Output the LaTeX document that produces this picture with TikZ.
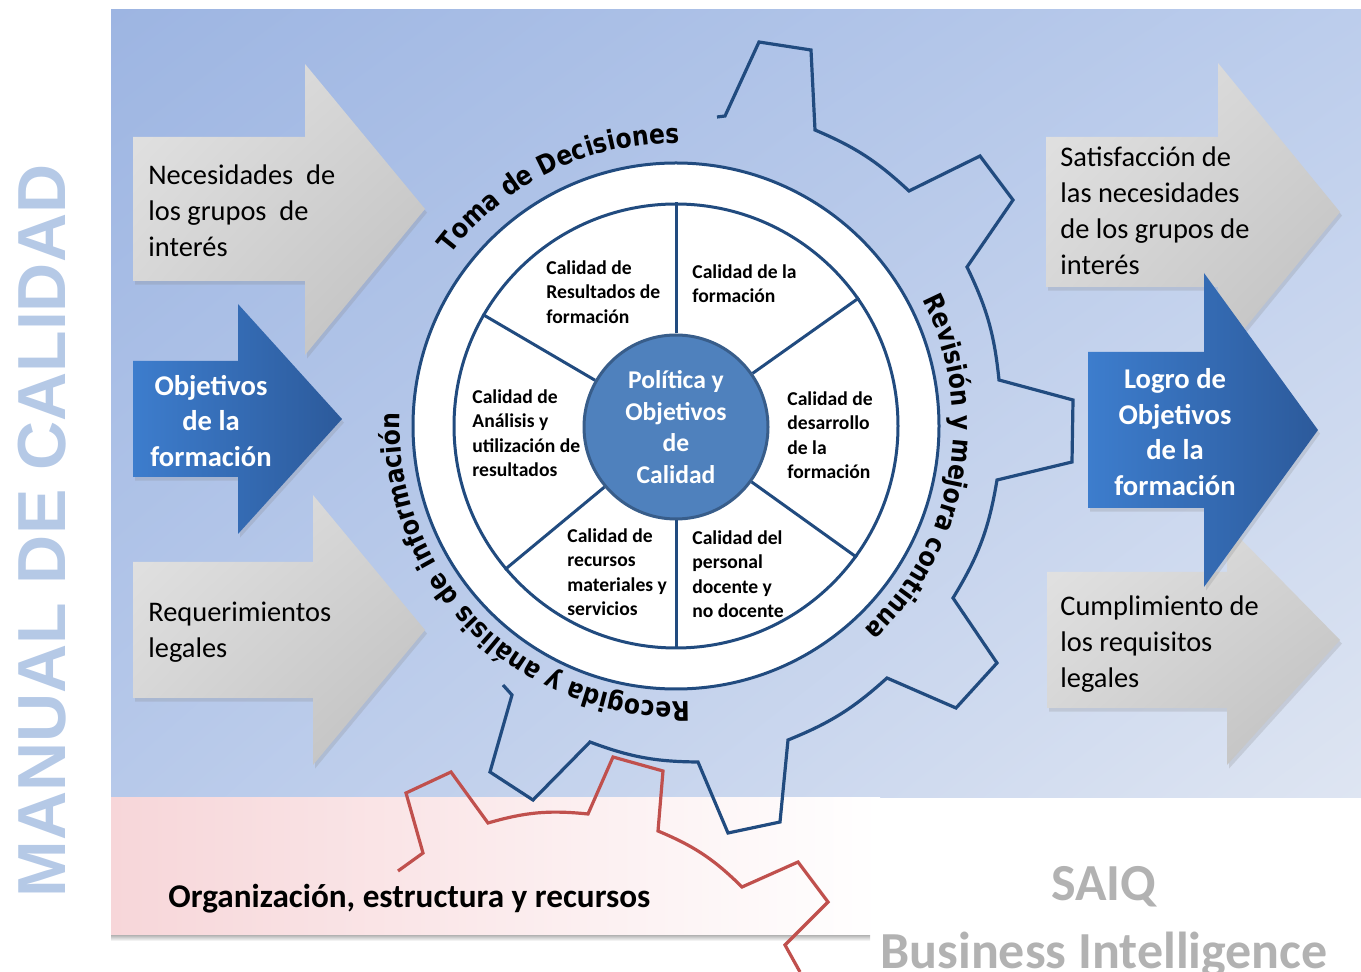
\documentclass[tikz,border=0pt]{standalone}
\usepackage{fontspec}
\setmainfont{Carlito}
\newfontfamily\arcofont[FakeStretch=0.87]{DejaVu Sans}
\newfontfamily\titulofont{Liberation Sans}
\usepackage{tikz}
\usetikzlibrary{decorations.text,shadows,shadings}
\definecolor{fondoA}{RGB}{157,181,226}
\definecolor{fondoB}{RGB}{188,205,236}
\definecolor{fondoC}{RGB}{183,201,234}
\definecolor{fondoD}{RGB}{222,229,242}
\definecolor{rosaA}{RGB}{247,214,217}
\definecolor{rosaB}{RGB}{233,219,221}
\definecolor{azulLinea}{RGB}{33,75,127}
\definecolor{azulDisco}{RGB}{79,129,189}
\definecolor{azulBorde}{RGB}{56,93,138}
\definecolor{rojoEng}{RGB}{192,80,77}
\definecolor{flechaA}{RGB}{61,125,205}
\definecolor{flechaB}{RGB}{44,90,155}
\definecolor{grisA}{RGB}{228,228,228}
\definecolor{grisB}{RGB}{211,211,211}
\definecolor{grisC}{RGB}{190,190,190}
\definecolor{titulo}{RGB}{181,201,230}
\definecolor{marca}{RGB}{178,178,178}
\newcommand{\flecha}[8]{
	%cuerpo
	\shade[#8] (#1,-#2) -- (#4,-#2) -- (#4,-#5)
	%punta
	-- (#6,{-(#2+#3)/2}) -- (#4,-#7)
	%
	-- (#4,-#3) -- (#1,-#3) -- cycle;
}
\newcommand{\arco}[4]{
	\path[decorate, decoration={text along path, text align=center,
		text={|\arcofont\bfseries\fontsize{13.5}{16}\selectfont|#4}}]
	(676,-426) ++(#1:#3) arc[start angle=#1, end angle=#2, radius=#3];
}
\tikzset{
	linea/.style={draw=azulLinea, line width=1.5pt},
	engranaje/.style={draw=azulLinea, line width=1.6pt},
	engrojo/.style={draw=rojoEng, line width=1.6pt},
	gris/.style={upper left=grisA, upper right=grisB, lower left=grisB, lower right=grisC,
		drop shadow={opacity=0.22, shadow xshift=1pt, shadow yshift=-1.8pt}},
	azul/.style={left color=flechaA, right color=flechaB,
		drop shadow={opacity=0.22, shadow xshift=1pt, shadow yshift=-1.8pt}},
	textoflecha/.style={anchor=west, align=left, inner sep=0pt, font=\fontsize{14.2}{18}\selectfont},
	textoazul/.style={align=center, inner sep=0pt, text=white, font=\bfseries\fontsize{14.3}{17.8}\selectfont},
	sector/.style={anchor=west, align=left, inner sep=0pt, font=\bfseries\fontsize{9.8}{12.2}\selectfont},
	anillo/.style={circle, inner sep=0pt, linea}
}
\begin{document}
\begin{tikzpicture}[x=0.5pt, y=0.5pt]
\useasboundingbox (0,0) rectangle (1361,-972);
% fondo
\shade[upper left=fondoA, upper right=fondoB, lower left=fondoC, lower right=fondoD] (111,-10) rectangle (1361,-798);
\shade[left color=rosaA, middle color=rosaB, right color=white] (111,-798) rectangle (880,-935);
\shade[top color=black!30, bottom color=white] (111,-935) rectangle (870,-941);
\node (manual) [rotate=90, anchor=base, inner sep=0pt, text=titulo, font=\titulofont\bfseries\fontsize{34}{40}\selectfont] at (65,-531) {MANUAL DE CALIDAD};
% engranaje rojo
\draw[engrojo] (398,-871) -- (423,-853) -- (406,-793) -- (451,-772) -- (488,-823)
	to[bend left=11] (588,-814) -- (613,-757) -- (663,-771) -- (658,-831)
	to[bend left=11] (742,-887) -- (798,-862) -- (828,-902) -- (785,-945) -- (800,-972);
% engranaje azul
\draw[engranaje] (717,-117) -- (725,-116) -- (759,-42) -- (811,-50) -- (815,-130)
	to[bend left=10] (909,-191) -- (980,-156) -- (1013,-200) -- (967,-267)
	to[bend left=10] (999,-380) -- (1073,-400) -- (1072,-462) -- (997,-480)
	to[bend left=11] (953,-598) -- (997,-663) -- (956,-708) -- (887,-678)
	to[bend left=10] (788,-740) -- (780,-822) -- (728,-833) -- (698,-762)
	to[bend left=10] (590,-742) -- (533,-800) -- (490,-772) -- (512,-695) -- (503,-685);
% anillo
\node (exterior) [anillo, fill=white, minimum size=263pt] at (676,-426) {};
\node (interior) [anillo, minimum size=222pt] at (676,-426) {};
\node (pol) [circle, inner sep=0pt, minimum size=92pt, fill=azulDisco, draw=azulBorde, line width=1.5pt,
	text=white, align=center, font=\bfseries\fontsize{12.8}{15.8}\selectfont] at (676,-427) {Política y\\Objetivos\\de\\Calidad};
\draw[linea] (pol.90) -- (interior.90);
\draw[linea] (pol.35) -- (interior.35);
\draw[linea] (pol.-36) -- (interior.-36);
\draw[linea] (pol.270) -- (interior.270);
\draw[linea] (pol.220) -- (interior.220);
\draw[linea] (pol.150) -- (interior.150);
\node (res) [sector] at (546,-292) {Calidad de\\Resultados de\\formación};
\node (form) [sector] at (692,-284) {Calidad de la\\formación};
\node (des) [sector] at (787,-435) {Calidad de\\desarrollo\\de la\\formación};
\node (pers) [sector] at (692,-574) {Calidad del\\personal\\docente y\\no docente};
\node (recu) [sector] at (567,-572) {Calidad de\\recursos\\materiales y\\servicios};
\node (anal) [sector] at (472,-433) {Calidad de\\Análisis y\\utilización de\\resultados};
% textos del arco
\arco{186}{46}{283}{Toma de Decisiones}
\arco{60}{-80}{277}{Revisión y mejora continua}
\arco{-65}{-205}{276}{Recogida y análisis de información}
% flechas: x cuerpo, arriba, abajo, x punta, arriba, x pico, abajo, estilo
\flecha{133}{137}{281}{305}{64}{425}{355}{gris}
\flecha{133}{562}{698}{313}{495}{425}{765}{gris}
\flecha{1046}{137}{287}{1218}{63}{1340}{361}{gris}
\flecha{1047}{572}{708}{1227}{525}{1340}{765}{gris}
\flecha{133}{361}{477}{238}{304}{342}{534}{azul}
\flecha{1088}{352}{508}{1204}{273}{1318}{587}{azul}
\node (nec) [textoflecha] at (148,-211) {Necesidades\ \ de\\los grupos\ \ de\\interés};
\node (req) [textoflecha] at (148,-632) {Requerimientos\\legales};
\node (sat) [textoflecha] at (1060,-211) {Satisfacción de\\las necesidades\\de los grupos de\\interés};
\node (cump) [textoflecha] at (1060,-644) {Cumplimiento de\\los requisitos\\legales};
\node (obj) [textoazul] at (211,-421) {Objetivos\\de la\\formación};
\node (logro) [textoazul] at (1175,-432) {Logro de\\Objetivos\\de la\\formación};
% abajo
\node (org) [anchor=west, inner sep=0pt, font=\bfseries\fontsize{16.6}{19}\selectfont] at (168,-899) {Organización, estructura y recursos};
\node (saiq) [inner sep=0pt, text=marca, font=\bfseries\fontsize{26}{30}\selectfont] at (1104,-887) {SAIQ};
\node (bi) [anchor=base, inner sep=0pt, text=marca, font=\bfseries\fontsize{26}{30}\selectfont] at (1104,-968) {Business Intelligence};
\end{tikzpicture}
\end{document}
